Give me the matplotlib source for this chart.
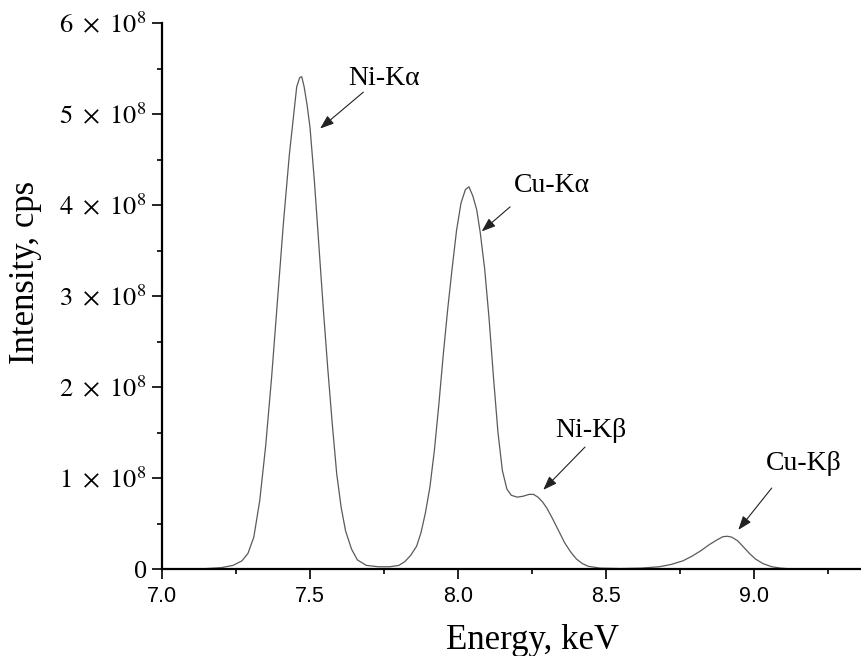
import matplotlib
matplotlib.use("Agg")
import matplotlib.pyplot as plt
from matplotlib.ticker import MultipleLocator

# Spectrum: energy (keV) and intensity (x 1e8 cps)
energy = [
    7.000, 7.100, 7.150, 7.200, 7.240, 7.270, 7.290, 7.310, 7.330, 7.350,
    7.370, 7.390, 7.410, 7.430, 7.445, 7.455, 7.465, 7.472, 7.480, 7.490,
    7.500, 7.515, 7.530, 7.545, 7.560, 7.575, 7.590, 7.605, 7.620, 7.640,
    7.660, 7.690, 7.730, 7.770, 7.800, 7.820, 7.840, 7.860, 7.875, 7.890,
    7.905, 7.920, 7.935, 7.950, 7.965, 7.980, 7.995, 8.010, 8.025, 8.037,
    8.050, 8.063, 8.075, 8.090, 8.105, 8.120, 8.135, 8.150, 8.165, 8.180,
    8.200, 8.220, 8.240, 8.255, 8.270, 8.285, 8.300, 8.320, 8.340, 8.360,
    8.380, 8.400, 8.420, 8.440, 8.480, 8.550, 8.620, 8.680, 8.720, 8.760,
    8.790, 8.820, 8.850, 8.875, 8.895, 8.910, 8.925, 8.945, 8.965, 8.985,
    9.005, 9.030, 9.060, 9.090, 9.110,
]
intensity = [
    0.00, 0.00, 0.005, 0.015, 0.04, 0.09, 0.17, 0.35, 0.75, 1.35,
    2.10, 2.95, 3.80, 4.55, 5.00, 5.30, 5.40, 5.41, 5.30, 5.10,
    4.85, 4.25, 3.55, 2.85, 2.20, 1.60, 1.05, 0.68, 0.42, 0.22,
    0.10, 0.04, 0.025, 0.025, 0.04, 0.08, 0.15, 0.25, 0.40, 0.62,
    0.90, 1.30, 1.80, 2.35, 2.85, 3.30, 3.72, 4.02, 4.17, 4.20,
    4.10, 3.95, 3.70, 3.30, 2.75, 2.10, 1.50, 1.08, 0.88, 0.81,
    0.79, 0.80, 0.82, 0.82, 0.79, 0.74, 0.67, 0.55, 0.42, 0.29,
    0.19, 0.11, 0.06, 0.03, 0.01, 0.005, 0.01, 0.025, 0.05, 0.09,
    0.14, 0.20, 0.27, 0.32, 0.355, 0.36, 0.35, 0.31, 0.24, 0.17,
    0.11, 0.06, 0.025, 0.01, 0.005,
]
intensity = [v * 1e8 for v in intensity]

# peak labels: text, label position, arrow head, arrow tail (keV, cps)
peak_labels = ["Ni-K\u03b1", "Cu-K\u03b1", "Ni-K\u03b2", "Cu-K\u03b2"]
label_pos = [(7.750, 5.32e8), (8.317, 4.14e8), (8.449, 1.45e8), (9.169, 1.09e8)]
arrow_head = [(7.534, 4.84e8), (8.080, 3.71e8), (8.288, 0.87e8), (8.947, 0.43e8)]
arrow_tail = [(7.680, 5.24e8), (8.176, 3.98e8), (8.429, 1.34e8), (9.060, 0.89e8)]

ytick_vals = [0, 1e8, 2e8, 3e8, 4e8, 5e8, 6e8]
ytick_labels = ["0"] + [r"$%d\ \times\ 10^{8}$" % i for i in range(1, 7)]

plt.rcParams["mathtext.fontset"] = "stix"
serif = "Liberation Serif"

fig = plt.figure(figsize=(8.62, 6.56), dpi=100)
ax = fig.add_axes([0.188, 0.1326, 0.812, 0.8323])

ax.plot(energy, intensity, color="#5a5a5a", lw=0.9)

ax.set_xlim(7.0, 9.365)
ax.set_ylim(0, 6e8)

ax.spines["top"].set_visible(False)
ax.spines["right"].set_visible(False)
for s in ["left", "bottom"]:
    ax.spines[s].set_linewidth(1.6)

ax.xaxis.set_minor_locator(MultipleLocator(0.25))
ax.set_xticks([7.0, 7.5, 8.0, 8.5, 9.0])
ax.set_xticklabels(["7.0", "7.5", "8.0", "8.5", "9.0"],
                   fontfamily="Liberation Sans", fontsize=15.5)
ax.set_yticks(ytick_vals)
ax.set_yticklabels(ytick_labels, fontfamily=serif, fontsize=19)
ax.yaxis.set_minor_locator(MultipleLocator(0.5e8))

ax.tick_params(which="major", direction="out", length=7, width=1.2)
ax.tick_params(which="minor", direction="out", length=3.6, width=1.2)
ax.tick_params(axis="x", which="major", pad=5)
ax.tick_params(axis="y", which="major", pad=4)

ax.set_xlabel("Energy, keV", fontfamily=serif, fontsize=25)
ax.set_ylabel("Intensity, cps", fontfamily=serif, fontsize=25)
ax.xaxis.set_label_coords(0.529, -0.1)
ax.yaxis.set_label_coords(-0.171, 0.544)

for txt, pos, head, tail in zip(peak_labels, label_pos, arrow_head, arrow_tail):
    ax.text(pos[0], pos[1], txt, ha="center", va="baseline",
            fontfamily=serif, fontsize=20)
    ax.annotate("", xy=head, xytext=tail,
                arrowprops=dict(arrowstyle="-|>,head_length=0.6,head_width=0.22",
                                color="#222222", lw=0.8, mutation_scale=14,
                                shrinkA=0, shrinkB=0))

fig.savefig("out.png", dpi=100)
